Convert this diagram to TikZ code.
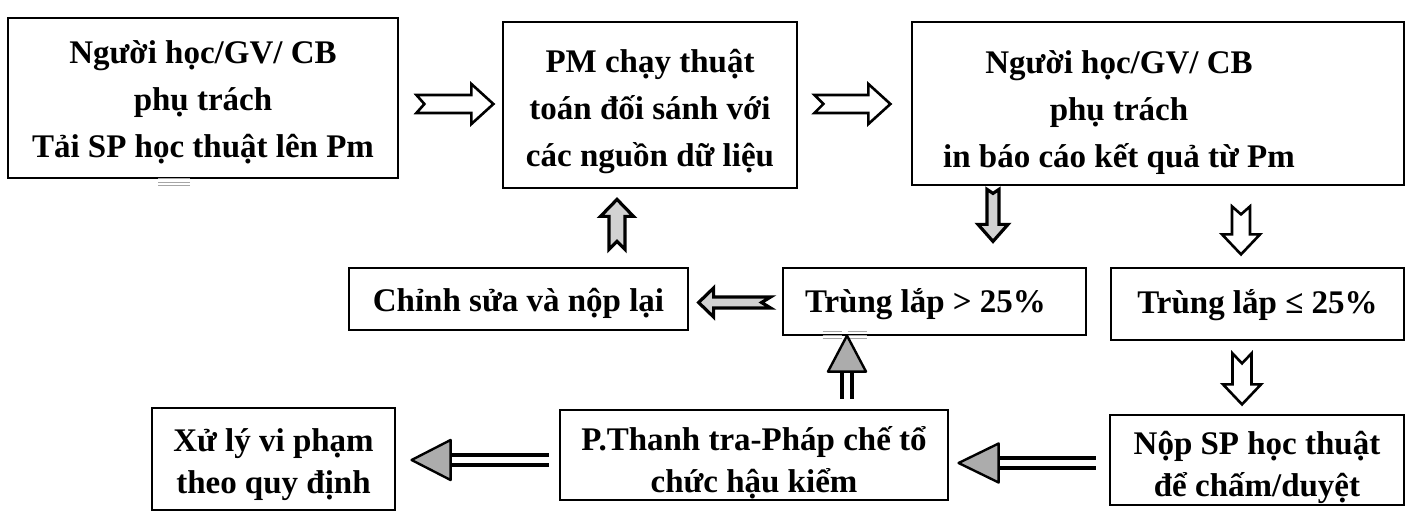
\documentclass[tikz,border=0pt]{standalone}
\usepackage{fontspec}
\setmainfont{Liberation Serif}
\usetikzlibrary{calc}
\newcommand\mybxfont{\fontsize{16.5pt}{23.5pt}\selectfont\bfseries}
\newcommand\mybxfonttwo{\fontsize{16.5pt}{21pt}\selectfont\bfseries}
\tikzset{
  box/.style={draw, line width=1.4pt, rectangle, inner sep=0pt},
  boxtext/.style={inner sep=0pt, align=center, font=\mybxfont},
  boxtexttwo/.style={inner sep=0pt, align=center, font=\mybxfonttwo},
  hollow/.style={draw, fill=white, line width=1.3pt, line join=miter},
  grayarr/.style={draw, fill=gray!35, line width=1.6pt, line join=miter},
  dblline/.style={line width=1.6pt},
  tri/.style={draw, fill=gray!65, line width=1.2pt, line join=round},
  scanmark/.style={draw=gray!70, line width=0.5pt}
}
% notched block arrow: #1 style, #2 tail point, #3 angle, #4 length, #5 body half width, #6 head half width, #7 head length, #8 notch depth
\newcommand{\notcharrow}[8]{%
  \begin{scope}[shift={(#2)},rotate=#3]
    \draw[#1] (0,#5) -- ({#4-#7},#5) -- ({#4-#7},#6) -- (#4,0) -- ({#4-#7},-#6) -- ({#4-#7},-#5) -- (0,-#5) -- (#8,0) -- cycle;
  \end{scope}}
% double-line arrow with triangle head: #1 tail point, #2 angle, #3 length, #4 head length, #5 head half width
\newcommand{\dblarrow}[5]{%
  \begin{scope}[shift={(#1)},rotate=#2]
    \draw[dblline] (0,5) -- ({#3-#4+1},5) (0,-5) -- ({#3-#4+1},-5);
    \draw[tri] ({#3-#4},#5) -- (#3,0) -- ({#3-#4},-#5) -- cycle;
  \end{scope}}
\begin{document}
\begin{tikzpicture}[x=0.5pt,y=-0.5pt]
\useasboundingbox (0,0) rectangle (1414,518);

% boxes
\node[box, minimum width=195pt, minimum height=80pt] (b1) at (203,98) {};
\node[box, minimum width=147pt, minimum height=83pt] (b2) at (650,105) {};
\node[box, minimum width=246pt, minimum height=81.5pt] (b3) at (1158,103.5) {};
\node[box, minimum width=169.5pt, minimum height=31pt] (b4) at (518.5,299) {};
\node[box, minimum width=151.5pt, minimum height=33.5pt] (b5) at (934.5,301.5) {};
\node[box, minimum width=146.5pt, minimum height=36pt] (b6) at (1257.5,304) {};
\node[box, minimum width=121.5pt, minimum height=51pt] (b7) at (273.5,459) {};
\node[box, minimum width=194pt, minimum height=45pt] (b8) at (754,455) {};
\node[box, minimum width=147pt, minimum height=45pt] (b9) at (1257,460) {};

% texts
\node[boxtext] (b1t) at ($(b1)+(0,4)$)
  {Người học/GV/ CB\\ phụ trách\\ Tải SP học thuật lên Pm};
\node[boxtext] (b2t) at ($(b2)+(0,7)$)
  {PM chạy thuật\\ toán đối sánh với\\ các nguồn dữ liệu};
\node[boxtext] (b3t) at ($(b3)+(-39,9.5)$)
  {Người học/GV/ CB\\ phụ trách\\ in báo cáo kết quả từ Pm};
\node[boxtext] (b4t) at ($(b4)+(0,4)$) {Chỉnh sửa và nộp lại};
\node[boxtext] (b5t) at ($(b5)+(-9,3)$) {Trùng lắp > 25\%};
\node[boxtext] (b6t) at ($(b6)+(0,1)$) {Trùng lắp ≤ 25\%};
\node[boxtexttwo] (b7t) at ($(b7)+(0,6)$) {Xử lý vi phạm\\ theo quy định};
\node[boxtexttwo] (b8t) at ($(b8)+(0,7.5)$) {P.Thanh tra-Pháp chế tổ\\ chức hậu kiểm};
\node[boxtexttwo] (b9t) at ($(b9)+(0,7.5)$) {Nộp SP học thuật\\ để chấm/duyệt};

% small scan marks on box edges
\draw[scanmark] ($(b1.south)+(-45,-1)$) -- ++(32,0) ($(b1.south)+(-45,3)$) -- ++(32,0) ($(b1.south)+(-45,6)$) -- ++(32,0);
\draw[scanmark] ($(b5.south)+(-112,-5)$) -- ++(19,0) ++(6,0) -- ++(19,0)
                ($(b5.south)+(-112,-1)$) -- ++(19,0) ++(6,0) -- ++(19,0)
                ($(b5.south)+(-112,2)$) -- ++(19,0) ++(6,0) -- ++(19,0);

% b1 -> b2 , b2 -> b3 (hollow notched)
\notcharrow{hollow}{$(b1.east)+(17,6)$}{0}{77}{9}{20}{22}{8}
\notcharrow{hollow}{$(b2.east)+(16,-1)$}{0}{76}{9}{20}{22}{9}
% b4 -> b2 (gray, up)
\notcharrow{grayarr}{$(b2.south)+(-33,60)$}{90}{50}{8}{16.5}{17}{8}
% b3 -> b5 (gray, down)
\notcharrow{grayarr}{$(b3.south)+(-165,3)$}{270}{52}{6}{15}{17}{4}
% b3 -> b6 (hollow, down)
\notcharrow{hollow}{$(b3.south)+(83,20)$}{270}{48}{9}{19}{20}{8}
% b5 -> b4 (gray, left)
\notcharrow{grayarr}{$(b5.west)+(-11,1)$}{180}{72}{5.5}{14.5}{15}{9}
% b6 -> b9 (hollow, down)
\notcharrow{hollow}{$(b6.south)+(-15.5,12)$}{270}{51}{9.5}{19}{20}{10}
% b8 -> b5 (double line, up)
\dblarrow{$(b8.north)+(93,-10)$}{90}{63}{36}{19}
% b8 -> b7 (double line, left)
\dblarrow{$(b8.west)+(-10,5)$}{180}{137}{39}{20}
% b9 -> b8 (double line, left)
\dblarrow{$(b9.west)+(-13,3)$}{180}{137}{40}{19.5}
\end{tikzpicture}
\end{document}
